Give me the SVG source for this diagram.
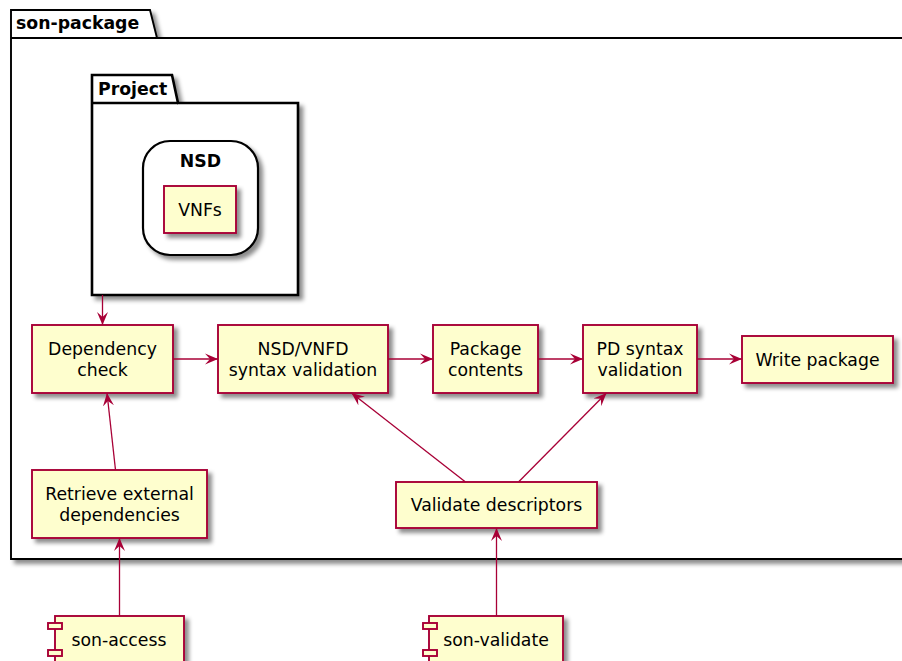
<svg xmlns="http://www.w3.org/2000/svg" width="902" height="661" viewBox="0 0 902 661">
  <defs>
    <filter id="shadow" x="-10%" y="-10%" width="130%" height="130%">
      <feGaussianBlur in="SourceAlpha" stdDeviation="2"/>
      <feColorMatrix type="matrix" values="0 0 0 0 0  0 0 0 0 0  0 0 0 0 0  0 0 0 0.45 0"/>
      <feOffset dx="4" dy="4" result="sh"/>
      <feMerge><feMergeNode in="sh"/><feMergeNode in="SourceGraphic"/></feMerge>
    </filter>
    <marker id="arrow" viewBox="0 0 13 12" refX="13" refY="6" markerWidth="13" markerHeight="12" markerUnits="userSpaceOnUse" orient="auto">
      <path d="M0,0.5 L13,6 L0,11.5 L5,6 Z" fill="#A80036"/>
    </marker>
    <style>
      .pkg { fill: #FFFFFF; stroke: #000000; }
      .node rect.box { fill: #FEFECE; stroke: #A80036; stroke-width: 1.9; }
      .port { fill: #FEFECE; stroke: #A80036; stroke-width: 1.9; }
      .lbl { font-family: "DejaVu Sans", "Liberation Sans", sans-serif; font-size: 17.3px; fill: #000000; text-anchor: middle; }
      .title { font-family: "DejaVu Sans", "Liberation Sans", sans-serif; font-size: 17.3px; font-weight: bold; fill: #000000; }
      .conn path { fill: none; stroke: #A80036; stroke-width: 1.3; marker-end: url(#arrow); }
    </style>
  </defs>
  <rect width="902" height="661" fill="#FFFFFF"/>

  <!-- outer package -->
  <g id="son-package">
    <path class="pkg" filter="url(#shadow)" stroke-width="1.9" d="M11,10 L150,10 L157,38 L910,38 L910,559 L11,559 Z"/>
    <path fill="none" stroke="#000" stroke-width="1.9" d="M11,38 L157,38"/>
    <text class="title" x="16" y="29">son-package</text>
  </g>

  <!-- Project package with NSD and VNFs -->
  <g id="project">
    <path class="pkg" filter="url(#shadow)" stroke-width="2.6" d="M92,75 L172,75 L178,103 L298,103 L298,295 L92,295 Z"/>
    <path fill="none" stroke="#000" stroke-width="2.6" d="M92,103 L178,103"/>
    <text class="title" x="98" y="95">Project</text>
  </g>
  <g id="nsd">
    <rect x="143" y="141" width="115" height="114" rx="27" ry="27" fill="#FFFFFF" stroke="#000" stroke-width="2.2" filter="url(#shadow)"/>
    <text class="title" x="200.5" y="167" text-anchor="middle">NSD</text>
  </g>
  <g id="vnfs" class="node">
    <rect class="box" x="164" y="186" width="72" height="47" filter="url(#shadow)"/>
    <text class="lbl" x="200" y="216">VNFs</text>
  </g>

  <!-- processing steps -->
  <g id="dependency-check" class="node">
    <rect class="box" x="32" y="325" width="141" height="68" filter="url(#shadow)"/>
    <text class="lbl" x="102.5" y="355">Dependency</text>
    <text class="lbl" x="102.5" y="375.5">check</text>
  </g>
  <g id="syntax-validation" class="node">
    <rect class="box" x="218" y="325" width="170" height="68" filter="url(#shadow)"/>
    <text class="lbl" x="303" y="355">NSD/VNFD</text>
    <text class="lbl" x="303" y="375.5">syntax validation</text>
  </g>
  <g id="package-contents" class="node">
    <rect class="box" x="433" y="325" width="105" height="68" filter="url(#shadow)"/>
    <text class="lbl" x="485.5" y="355">Package</text>
    <text class="lbl" x="485.5" y="375.5">contents</text>
  </g>
  <g id="pd-syntax" class="node">
    <rect class="box" x="583" y="325" width="114" height="68" filter="url(#shadow)"/>
    <text class="lbl" x="640" y="355">PD syntax</text>
    <text class="lbl" x="640" y="375.5">validation</text>
  </g>
  <g id="write-package" class="node">
    <rect class="box" x="742" y="336" width="151" height="47" filter="url(#shadow)"/>
    <text class="lbl" x="817.5" y="365.5">Write package</text>
  </g>
  <g id="retrieve-deps" class="node">
    <rect class="box" x="32" y="470" width="175" height="68" filter="url(#shadow)"/>
    <text class="lbl" x="119.5" y="500">Retrieve external</text>
    <text class="lbl" x="119.5" y="520.5">dependencies</text>
  </g>
  <g id="validate-descriptors" class="node">
    <rect class="box" x="396" y="482" width="201" height="46" filter="url(#shadow)"/>
    <text class="lbl" x="496.5" y="511">Validate descriptors</text>
  </g>

  <!-- external components -->
  <g id="son-access" class="node">
    <rect class="box" x="55" y="616" width="129" height="60" filter="url(#shadow)"/>
    <rect class="port" x="48" y="623" width="14" height="6"/>
    <rect class="port" x="48" y="650" width="14" height="6"/>
    <text class="lbl" x="119" y="645.5">son-access</text>
  </g>
  <g id="son-validate" class="node">
    <rect class="box" x="429" y="616" width="134" height="60" filter="url(#shadow)"/>
    <rect class="port" x="423" y="623" width="14" height="6"/>
    <rect class="port" x="423" y="650" width="14" height="6"/>
    <text class="lbl" x="496" y="645.5">son-validate</text>
  </g>

  <!-- connectors -->
  <g id="connectors" class="conn">
    <path d="M102.5,295 L102.5,325"/>
    <path d="M173,359 L218,359"/>
    <path d="M388,359 L433,359"/>
    <path d="M538,359 L583,359"/>
    <path d="M697,359 L742,359"/>
    <path d="M115.5,470 L107,393"/>
    <path d="M465.5,482 L351.5,393"/>
    <path d="M518.5,482 L606.5,393"/>
    <path d="M119.5,616 L119.5,538"/>
    <path d="M496.5,616 L496.5,528"/>
  </g>
</svg>
